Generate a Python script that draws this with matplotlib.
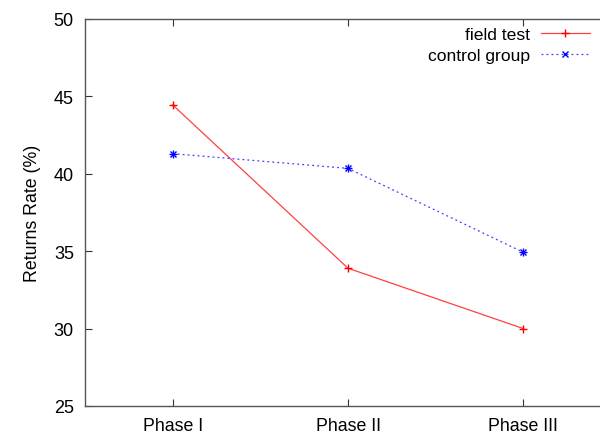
import matplotlib

matplotlib.use("Agg")
import matplotlib.pyplot as plt

phases = ["Phase I", "Phase II", "Phase III"]
field_test = [44.45, 33.9, 30.0]
control_group = [41.3, 40.35, 34.93]

plt.rcParams["font.family"] = ["Liberation Sans", "DejaVu Sans"]

fig = plt.figure(figsize=(6, 4.35), dpi=100)
# right edge runs slightly past the figure, as in the original
ax = fig.add_axes([85 / 600, 1 - 407 / 435, 526 / 600, 387 / 435])

x = list(range(len(phases)))
ax.plot(x, field_test, color="#ff4040", lw=0.9, marker="+", ms=6, mew=1.0,
        mec="red", label="field test")
ax.plot(x, control_group, color="#4040ff", lw=0.9, ls=(0, (1.5, 2.5)), marker="x",
        ms=5, mew=1.0, mec="blue", label="control group")
ax.plot(x, control_group, ls="none", marker="+", ms=6, mew=1.0, mec="blue")

ax.set_xlim(-0.5, 2.5)
ax.set_ylim(25, 50)
ax.set_yticks([25, 30, 35, 40, 45, 50])
ax.set_xticks(x)
ax.set_xticklabels(phases, fontsize=12.8)
ax.tick_params(axis="y", labelsize=13)
ax.tick_params(direction="in", length=5, width=0.8, color="#333333",
               top=True, right=False, pad=8)
for side in ["left", "bottom", "top"]:
    ax.spines[side].set_color("#555555")
    ax.spines[side].set_linewidth(1.0)
ax.spines["right"].set_visible(False)

ax.set_ylabel("Returns Rate (%)", fontsize=12.8, labelpad=9)

leg = ax.legend(loc="upper right", bbox_to_anchor=(0.983, 1.012),
                frameon=False, fontsize=12.6, markerfirst=False,
                handlelength=2.8, handletextpad=0.6, labelspacing=0.35,
                borderaxespad=0.3)

fig.savefig("out.png", dpi=100)
